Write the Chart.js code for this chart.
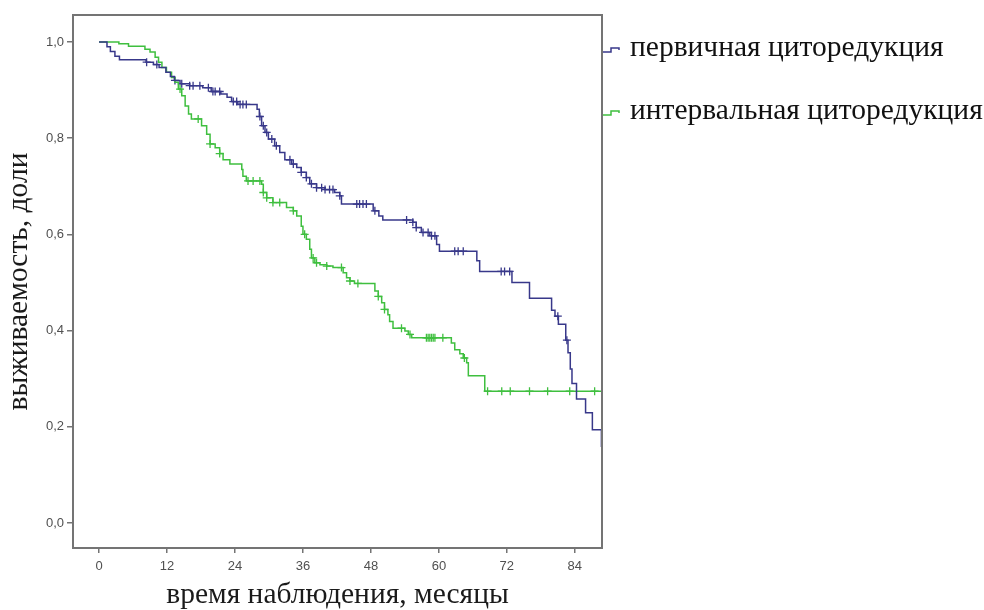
<!DOCTYPE html>
<html>
<head>
<meta charset="utf-8">
<script src="https://cdn.jsdelivr.net/npm/chart.js@4.4.0/dist/chart.umd.min.js"></script>
<style>
  body { margin: 0; background: #fff; }
  #wrap { width: 984px; height: 610px; }
</style>
</head>
<body>
<div id="wrap"><canvas id="kmChart" width="984" height="610"></canvas></div>
<script>
// Kaplan-Meier steps, months -> survival share
const primaryMonths = [0, 1.4, 2.0, 2.8, 3.6, 8.3, 9.6, 10.6, 11.8, 12.6, 13.3, 14.3, 16.0, 18.3, 19.8, 21.5, 22.6, 23.4, 24.5, 27.9,
  28.3, 28.7, 29.3, 29.9, 31.0, 31.9, 32.8, 34.0, 34.9, 35.7, 36.6, 37.2, 38.4, 39.9, 41.6, 42.5, 42.8, 48.4, 49.4, 50.1,
  55.4, 56.0, 56.9, 58.4, 59.6, 60.1, 66.7, 67.2, 72.9, 76.0, 79.9, 80.5, 81.1, 82.4, 82.8, 83.2, 83.5, 84.3, 85.9, 87.1,
  88.7];
const primarySurvival = [1.0, 0.99, 0.98, 0.97, 0.963, 0.958, 0.953, 0.947, 0.937, 0.928, 0.92, 0.913, 0.909, 0.905, 0.897, 0.892, 0.885, 0.876, 0.87, 0.86,
  0.845, 0.826, 0.812, 0.798, 0.784, 0.77, 0.755, 0.746, 0.739, 0.729, 0.718, 0.705, 0.697, 0.693, 0.687, 0.68, 0.663, 0.649, 0.638, 0.63,
  0.625, 0.614, 0.604, 0.597, 0.579, 0.565, 0.545, 0.523, 0.50, 0.467, 0.442, 0.43, 0.413, 0.38, 0.354, 0.32, 0.29, 0.258, 0.229, 0.194,
  0.158];
const primaryCensored = [8.4, 10.2, 13.4, 14.6, 16.0, 16.6, 17.8, 19.3, 20.1, 20.5, 21.3, 23.7, 24.3, 24.9, 25.4, 26.0, 28.4, 29.0, 29.6, 30.5,
  31.3, 33.7, 34.3, 35.7, 36.6, 37.5, 38.4, 39.3, 39.9, 40.7, 41.3, 42.5, 45.5, 46.0, 46.6, 47.2, 48.7, 54.3, 55.4, 56.0,
  57.2, 58.1, 58.7, 59.3, 62.8, 63.4, 64.3, 71.0, 71.6, 72.5, 81.0, 82.6];

const intervalMonths = [0, 3.5, 5.2, 8.1, 9.0, 9.9, 10.5, 11.1, 11.9, 12.8, 13.4, 14.0, 14.6, 15.2, 15.8, 16.3, 18.1, 19.0, 19.6, 20.5,
  21.3, 21.9, 23.1, 25.2, 25.4, 26.0, 28.7, 29.0, 29.6, 30.7, 33.1, 34.3, 34.9, 35.7, 36.0, 36.6, 37.2, 37.5, 38.1, 39.0,
  40.2, 41.3, 43.1, 43.7, 44.3, 45.1, 48.7, 49.3, 49.9, 50.4, 51.0, 51.3, 51.9, 54.0, 54.6, 55.2, 62.2, 62.8, 63.7, 64.3,
  64.9, 65.2, 68.1, 88.7];
const intervalSurvival = [1.0, 0.996, 0.991, 0.985, 0.979, 0.968, 0.958, 0.947, 0.937, 0.926, 0.916, 0.902, 0.888, 0.867, 0.85, 0.84, 0.826, 0.808, 0.788, 0.78,
  0.768, 0.755, 0.746, 0.735, 0.721, 0.711, 0.704, 0.687, 0.676, 0.666, 0.656, 0.649, 0.638, 0.617, 0.60, 0.59, 0.569, 0.551, 0.541, 0.537,
  0.534, 0.531, 0.52, 0.51, 0.503, 0.498, 0.482, 0.471, 0.458, 0.444, 0.433, 0.419, 0.405, 0.399, 0.392, 0.385, 0.374, 0.36, 0.352, 0.343,
  0.333, 0.306, 0.274, 0.274];
const intervalCensored = [14.3, 17.5, 19.6, 21.3, 26.3, 27.2, 28.4, 29.0, 29.6, 30.7, 31.9, 34.3, 36.3, 37.8, 38.4, 40.2, 42.8, 44.3, 45.7, 49.3,
  50.4, 53.4, 54.9, 57.8, 58.1, 58.4, 58.7, 59.0, 59.3, 60.7, 64.5, 68.6, 71.1, 72.6, 76.0, 79.2, 83.1, 87.5];

const xTickValues = [0, 12, 24, 36, 48, 60, 72, 84];
const yTickValues = [0, 0.2, 0.4, 0.6, 0.8, 1.0];
const groupLabels = ['первичная циторедукция', 'интервальная циторедукция'];

const blueColor = '#38388a';
const greenColor = '#3fbf3f';

function toPoints(months, surv) {
    return months.map((m, i) => ({ x: m, y: surv[i] }));
}

// survival level of the curve at a censoring time
function censorPoints(censored, months, surv) {
    return censored.map(t => {
        let k = 0;
        for (let i = 0; i < months.length; i++) {
            if (months[i] <= t) k = i;
        }
        return { x: t, y: surv[k] };
    });
}

const framePlugin = {
    id: 'frameAndLegend',
    afterDraw(chart) {
        const { ctx, chartArea: a } = chart;
        ctx.save();
        ctx.strokeStyle = '#747474';
        ctx.lineWidth = 2;
        ctx.strokeRect(a.left, a.top, a.right - a.left, a.bottom - a.top);

        const items = [
            { text: groupLabels[0], color: blueColor, y: a.top + 33 },
            { text: groupLabels[1], color: greenColor, y: a.top + 96 },
        ];
        ctx.font = '29.5px "Liberation Serif", "Times New Roman", serif';
        ctx.textBaseline = 'middle';
        ctx.textAlign = 'left';
        items.forEach(it => {
            ctx.strokeStyle = it.color;
            ctx.lineWidth = 1.5;
            ctx.beginPath();
            ctx.moveTo(a.right + 1, it.y + 4);
            ctx.lineTo(a.right + 9, it.y + 4);
            ctx.lineTo(a.right + 9, it.y);
            ctx.lineTo(a.right + 17, it.y);
            ctx.lineTo(a.right + 17, it.y + 2);
            ctx.stroke();
            ctx.fillStyle = '#111';
            ctx.fillText(it.text, a.right + 28, it.y);
        });
        ctx.restore();
    }
};

const ctx = document.getElementById('kmChart').getContext('2d');
const kmChart = new Chart(ctx, {
    type: 'line',
    data: {
        datasets: [
            {
                label: groupLabels[0],
                data: toPoints(primaryMonths, primarySurvival),
                borderColor: blueColor,
                borderWidth: 1.5,
                stepped: true,
                pointRadius: 0,
                fill: false,
            },
            {
                label: groupLabels[1],
                data: toPoints(intervalMonths, intervalSurvival),
                borderColor: greenColor,
                borderWidth: 1.5,
                stepped: true,
                pointRadius: 0,
                fill: false,
            },
            {
                type: 'scatter',
                data: censorPoints(primaryCensored, primaryMonths, primarySurvival),
                borderColor: blueColor,
                pointStyle: 'cross',
                pointRadius: 4,
                borderWidth: 1.3,
                showLine: false,
            },
            {
                type: 'scatter',
                data: censorPoints(intervalCensored, intervalMonths, intervalSurvival),
                borderColor: greenColor,
                pointStyle: 'cross',
                pointRadius: 4,
                borderWidth: 1.3,
                showLine: false,
            },
        ],
    },
    options: {
        responsive: false,
        animation: false,
        layout: { padding: { top: 15, right: 382, left: 0, bottom: 0 } },
        plugins: {
            legend: { display: false },
            tooltip: { enabled: false },
        },
        scales: {
            x: {
                type: 'linear',
                min: -4.6,
                max: 88.8,
                afterBuildTicks: s => { s.ticks = xTickValues.map(v => ({ value: v })); },
                afterFit: s => { s.height = 62; },
                ticks: {
                    color: '#505050',
                    font: { family: 'Liberation Sans', size: 13 },
                    padding: 6,
                    maxRotation: 0,
                    callback: v => String(v),
                },
                grid: { drawOnChartArea: false, drawTicks: true, tickLength: 5, color: '#747474', lineWidth: 1.5 },
                border: { display: false },
                title: {
                    display: true,
                    text: 'время наблюдения, месяцы',
                    color: '#1a1a1a',
                    font: { family: 'Liberation Serif', size: 29.5, lineHeight: 1.0 },
                    padding: { top: 0, bottom: 0 },
                },
            },
            y: {
                min: -0.052,
                max: 1.056,
                afterBuildTicks: s => { s.ticks = yTickValues.map(v => ({ value: v })); },
                afterFit: s => { s.width = 73; },
                ticks: {
                    color: '#505050',
                    font: { family: 'Liberation Sans', size: 13 },
                    padding: 3,
                    callback: v => v.toFixed(1).replace('.', ','),
                },
                grid: { drawOnChartArea: false, drawTicks: true, tickLength: 6, color: '#747474', lineWidth: 1.5 },
                border: { display: false },
                title: {
                    display: true,
                    text: 'выживаемость, доли',
                    color: '#1a1a1a',
                    font: { family: 'Liberation Serif', size: 29.5, lineHeight: 1.0 },
                    padding: { top: 4, bottom: 0 },
                },
            },
        },
    },
    plugins: [framePlugin],
});
</script>
</body>
</html>
